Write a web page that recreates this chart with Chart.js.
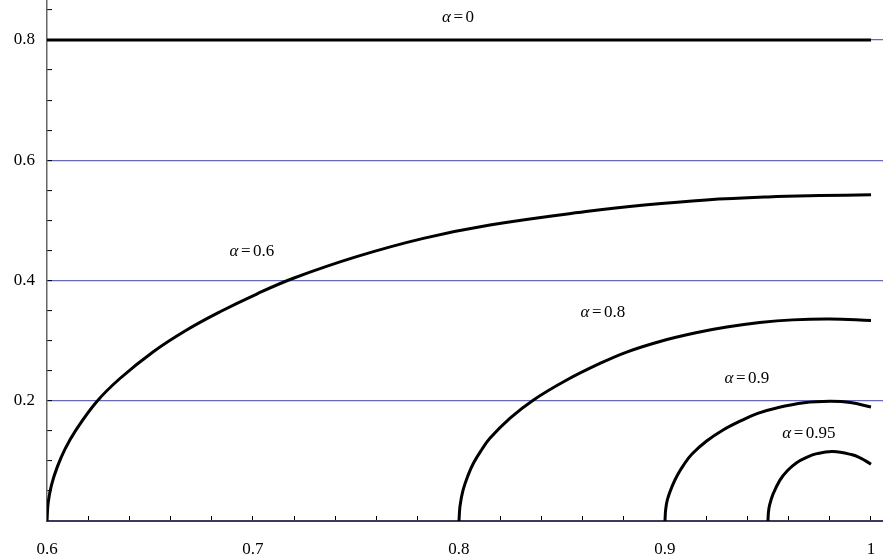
<!DOCTYPE html>
<html>
<head>
<meta charset="utf-8">
<title>alpha curves</title>
<script src="https://cdn.jsdelivr.net/npm/chart.js@4.4.1/dist/chart.umd.min.js"></script>
<style>
    html, body { margin: 0; padding: 0; background: #fff; }
    #chart { display: block; }
</style>
</head>
<body>
<canvas id="chart" width="883" height="560"></canvas>
<script>
// curve values
const alpha0X = [0.6, 1.0];
const alpha0Y = [0.8, 0.8];

const alpha06X = [0.600, 0.60055, 0.6022, 0.605, 0.6088, 0.6138, 0.624, 0.6354, 0.6516, 0.6678, 0.684, 0.7018, 0.7196, 0.7503, 0.7827, 0.815, 0.8636, 0.89, 0.92, 0.95, 0.975, 1.0];
const alpha06Y = [0, 0.03, 0.06, 0.09, 0.12, 0.15, 0.198, 0.237, 0.2816, 0.3177, 0.348, 0.3775, 0.4037, 0.4396, 0.470, 0.4923, 0.5155, 0.5255, 0.534, 0.539, 0.5412, 0.5425];

const alpha08X = [0.800, 0.8005, 0.802, 0.8043, 0.807, 0.811, 0.815, 0.8248, 0.836, 0.8523, 0.8684, 0.8814, 0.898, 0.915, 0.93, 0.946, 0.962, 0.980, 1.0];
const alpha08Y = [0, 0.025, 0.0516, 0.075, 0.096, 0.1185, 0.1375, 0.171, 0.201, 0.2345, 0.262, 0.281, 0.299, 0.313, 0.3225, 0.330, 0.3345, 0.336, 0.3335];

const alpha09X = [0.900, 0.9003, 0.9012, 0.9035, 0.906, 0.909, 0.913, 0.9202, 0.928, 0.9364, 0.945, 0.9542, 0.9675, 0.980, 0.990, 1.0];
const alpha09Y = [0, 0.018, 0.036, 0.058, 0.076, 0.093, 0.111, 0.133, 0.151, 0.166, 0.179, 0.188, 0.1965, 0.199, 0.197, 0.1895];

const alpha095X = [0.950, 0.9502, 0.9508, 0.9525, 0.9558, 0.9595, 0.9639, 0.9685, 0.9737, 0.9815, 0.9905, 0.995, 1.0];
const alpha095Y = [0, 0.014, 0.027, 0.045, 0.068, 0.084, 0.097, 0.1055, 0.112, 0.1155, 0.1105, 0.1045, 0.0945];

// curve labels
const labelValues = ['0', '0.6', '0.8', '0.9', '0.95'];
const labelX = [0.7995, 0.6995, 0.8699, 0.9398, 0.9699];
const labelY = [0.8366, 0.4474, 0.346, 0.2362, 0.1452];

// axes
const xLabelTicks = [0.6, 0.7, 0.8, 0.9, 1];
const yLabelTicks = [0.2, 0.4, 0.6, 0.8];

const FONT = "'Liberation Serif', 'DejaVu Serif', serif";
const FONT_SIZE = 17;

function toPoints(xs, ys) {
    return xs.map((x, i) => ({ x: x, y: ys[i] }));
}

function isOneOf(list, v) {
    return list.some(t => Math.abs(t - v) < 1e-6);
}

function zeroPadding(scale) {
    scale.paddingLeft = 0;
    scale.paddingRight = 0;
    scale.paddingTop = 0;
    scale.paddingBottom = 0;
}

// draws the "α=..." annotations at data positions
const curveLabels = {
    id: 'curveLabels',
    afterDatasetsDraw(chart) {
        const ctx = chart.ctx;
        const xs = chart.scales.x;
        const ys = chart.scales.y;
        const gap = 2.5;
        const italic = 'italic ' + FONT_SIZE + 'px ' + FONT;
        const upright = FONT_SIZE + 'px ' + FONT;

        ctx.save();
        ctx.fillStyle = '#000';
        ctx.textBaseline = 'middle';
        ctx.textAlign = 'left';

        labelValues.forEach((val, i) => {
            const px = xs.getPixelForValue(labelX[i]);
            const py = ys.getPixelForValue(labelY[i]);

            ctx.font = italic;
            const wa = ctx.measureText('\u03B1').width;
            ctx.font = upright;
            const we = ctx.measureText('=').width;
            const wv = ctx.measureText(val).width;

            let left = px - (wa + we + wv + 2 * gap) / 2;
            ctx.font = italic;
            ctx.fillText('\u03B1', left, py);
            left += wa + gap;
            ctx.font = upright;
            ctx.fillText('=', left, py);
            left += we + gap;
            ctx.fillText(val, left, py);
        });
        ctx.restore();
    }
};

function makeSet(xs, ys) {
    return {
        data: toPoints(xs, ys),
        showLine: true,
        borderColor: '#000',
        borderWidth: 3,
        pointRadius: 0,
        fill: false,
        tension: 0.4
    };
}

document.addEventListener('DOMContentLoaded', function () {
    const ctx = document.getElementById('chart').getContext('2d');

    new Chart(ctx, {
        type: 'scatter',
        data: {
            datasets: [
                makeSet(alpha0X, alpha0Y),
                makeSet(alpha06X, alpha06Y),
                makeSet(alpha08X, alpha08Y),
                makeSet(alpha09X, alpha09Y),
                makeSet(alpha095X, alpha095Y)
            ]
        },
        options: {
            responsive: false,
            animation: false,
            layout: { padding: 0 },
            plugins: {
                legend: { display: false },
                tooltip: { enabled: false }
            },
            scales: {
                x: {
                    type: 'linear',
                    position: 'bottom',
                    min: 0.6,
                    max: 1.00583,
                    afterFit: s => { s.height = 39; zeroPadding(s); },
                    border: { color: '#3a3a5c', width: 2 },
                    grid: {
                        drawOnChartArea: false,
                        drawTicks: true,
                        tickLength: -5,
                        tickColor: '#000',
                        tickWidth: 1
                    },
                    ticks: {
                        stepSize: 0.02,
                        includeBounds: false,
                        autoSkip: false,
                        maxRotation: 0,
                        padding: 23,
                        color: '#000',
                        font: { family: FONT, size: FONT_SIZE },
                        callback: v => isOneOf(xLabelTicks, v) ? String(Math.round(v * 10) / 10) : ''
                    }
                },
                y: {
                    type: 'linear',
                    position: 'left',
                    min: 0,
                    max: 0.8665,
                    afterFit: s => { s.width = 47; zeroPadding(s); },
                    border: { color: '#666', width: 1.5 },
                    grid: {
                        color: c => (c.tick && isOneOf(yLabelTicks, c.tick.value)) ? 'rgb(105,105,185)' : 'rgba(0,0,0,0)',
                        lineWidth: 1.2,
                        drawTicks: true,
                        tickLength: -5,
                        tickColor: '#000',
                        tickWidth: 1
                    },
                    ticks: {
                        stepSize: 0.05,
                        includeBounds: false,
                        autoSkip: false,
                        padding: 17,
                        color: '#000',
                        font: { family: FONT, size: FONT_SIZE },
                        callback: v => isOneOf(yLabelTicks, v) ? v.toFixed(1) : ''
                    }
                }
            }
        },
        plugins: [curveLabels]
    });
});
</script>
</body>
</html>
